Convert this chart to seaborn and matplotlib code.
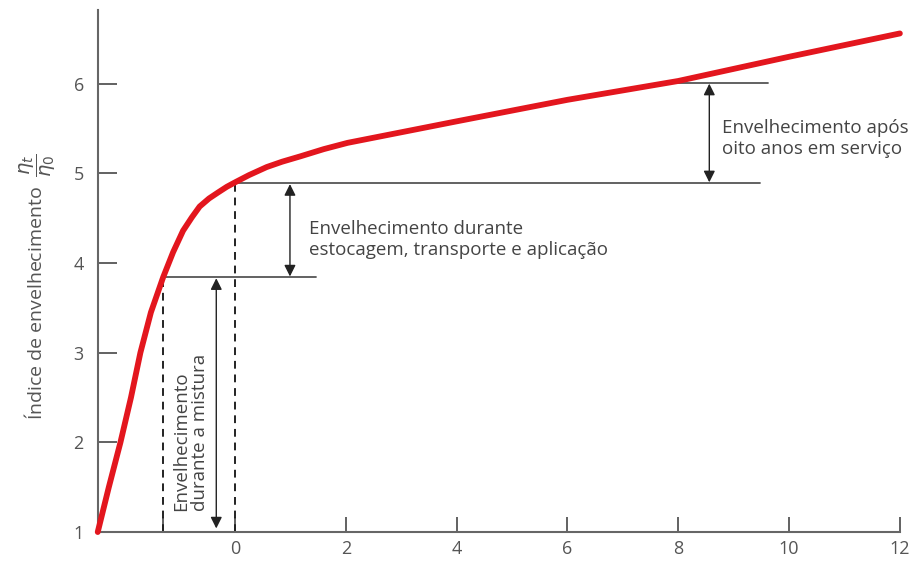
import matplotlib
matplotlib.use("Agg")
import matplotlib.pyplot as plt
import seaborn as sns
import pandas as pd

# curva de envelhecimento
tempo = [-2.48, -2.28, -2.07, -1.88, -1.71, -1.52, -1.30, -1.12, -0.94, -0.78, -0.64,
         -0.47, -0.30, -0.15, 0.0, 0.25, 0.57, 0.85, 1.18, 1.60, 2.03, 4.0, 6.0, 8.0, 10.0, 12.0]
indice = [1.0, 1.5, 2.0, 2.5, 3.0, 3.45, 3.84, 4.12, 4.36, 4.51, 4.63,
          4.72, 4.79, 4.85, 4.90, 4.98, 5.07, 5.13, 5.19, 5.27, 5.34, 5.58, 5.82, 6.03, 6.30, 6.56]

# marcos
x_mistura = -1.30
y_mistura = 3.84
y_aplicacao = 4.89
x_servico = 8.0
y_servico = 6.01

xticks = [x_mistura, 0, 2, 4, 6, 8, 10, 12]
xtick_labels = ['', '0', '2', '4', '6', '8', '10', '12']
yticks = [1, 2, 3, 4, 5, 6]

df = pd.DataFrame({'tempo': tempo, 'indice': indice})

sns.set_style('white')
plt.rcParams['font.family'] = ['Open Sans', 'DejaVu Sans']

fig = plt.figure(figsize=(9.22, 5.63), dpi=100)
ax = fig.add_axes([0.106, 0.055, 0.870, 0.927])

sns.lineplot(data=df, x='tempo', y='indice', sort=False, color='#e3161e',
             linewidth=4.2, ax=ax, clip_on=False, zorder=5,
             solid_joinstyle='round', solid_capstyle='round')

cinza = '#555555'
preto = '#222222'

# linhas tracejadas
ax.plot([x_mistura, x_mistura], [1, y_mistura], ls=(0, (4, 3)), color=preto, lw=1.4)
ax.plot([0, 0], [1, y_aplicacao], ls=(0, (4, 3)), color=preto, lw=1.4)

# linhas horizontais
ax.plot([x_mistura, 1.46], [y_mistura, y_mistura], color=cinza, lw=1.3)
ax.plot([0, 9.48], [y_aplicacao, y_aplicacao], color=cinza, lw=1.3)
ax.plot([x_servico, 9.62], [y_servico, y_servico], color=cinza, lw=1.3)

seta = dict(arrowstyle='<|-|>', color=preto, lw=1.0, mutation_scale=17,
            shrinkA=0, shrinkB=0)
ax.annotate('', xy=(0.99, y_aplicacao - 0.01), xytext=(0.99, y_mistura + 0.01), arrowprops=seta)
ax.annotate('', xy=(8.56, y_servico - 0.01), xytext=(8.56, y_aplicacao + 0.01), arrowprops=seta)
ax.annotate('', xy=(-0.34, 1.04), xytext=(-0.34, y_mistura - 0.01), arrowprops=seta)

txt = dict(color='#444444', fontsize=13.5)
ax.text(1.34, 4.26, 'Envelhecimento durante\nestocagem, transporte e aplicação',
        va='center', ha='left', linespacing=1.2, **txt)
ax.text(8.79, 5.39, 'Envelhecimento após\noito anos em serviço',
        va='center', ha='left', linespacing=1.2, clip_on=False, **txt)
ax.text(-0.80, 1.24, 'Envelhecimento\ndurante a mistura', rotation=90,
        rotation_mode='anchor', ha='left', va='center', linespacing=1.1, **txt)

ax.set_xlim(-2.48, 12)
ax.set_ylim(1, 6.82)
ax.set_xticks(xticks)
ax.set_xticklabels(xtick_labels)
ax.set_yticks(yticks)
ax.tick_params(axis='x', bottom=True, direction='in', length=11, width=1.3, colors=cinza,
               labelsize=13, labelcolor='#555555', pad=6)
ax.tick_params(axis='y', left=True, direction='in', length=14, width=1.3, colors=cinza,
               labelsize=13, labelcolor='#555555', pad=10)
ax.set_xlabel('')
ax.set_ylabel(r'Índice de envelhecimento  $\dfrac{\eta_t}{\eta_0}$', fontsize=14, color='#555555')
ax.yaxis.set_label_coords(-0.05, 0.47)

sns.despine(ax=ax)
for s in ['left', 'bottom']:
    ax.spines[s].set_color('#666666')
    ax.spines[s].set_linewidth(1.5)

fig.savefig('out.png', dpi=100)
